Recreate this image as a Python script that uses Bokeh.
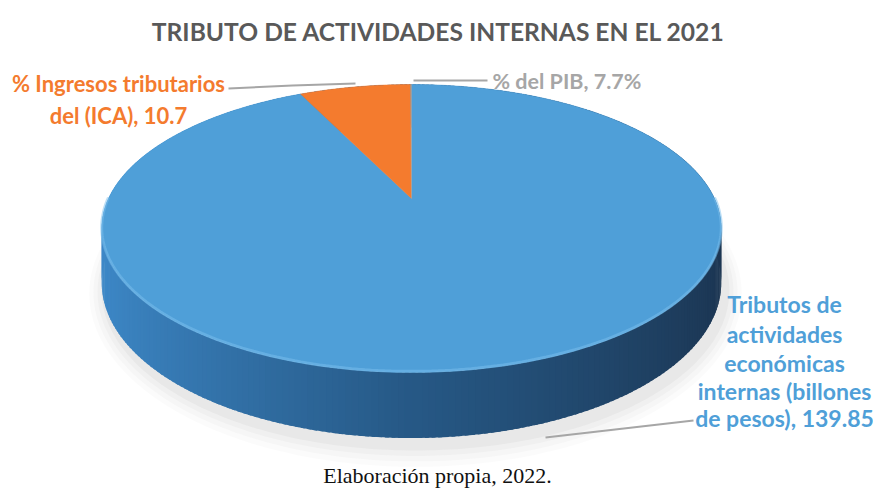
import math
from bokeh.plotting import figure
from bokeh.models import Range1d
from bokeh.core.properties import value
from bokeh.embed import file_html
from bokeh.resources import INLINE

# ---- data ----
categories = ["Tributos de actividades económicas internas (billones de pesos)",
              "% Ingresos tributarios del (ICA)",
              "% del PIB"]
values = [139.85, 10.7, 0.077]
value_labels = ["139.85", "10.7", "7.7%"]
colors = ["#4f9fd8", "#f47b2e", "#a5a5a5"]

title = "TRIBUTO DE ACTIVIDADES INTERNAS EN EL 2021"
caption = "Elaboración propia, 2022."

# ---- geometry of the 3D pie (layout) ----
CX, CY = 411.0, 198.0
RX, RY = 303.0, 137.7
K = 0.208
DEPTH = 52.0
W, H = 873, 490


def proj(theta, down=0.0):
    s = 1.0 / (1.0 + K * math.sin(theta))
    return (CX + RX * math.cos(theta) * s,
            CY - RY * math.sin(theta) * s + DEPTH * s * down)


def lerp(c1, c2, t):
    return tuple(int(round(a + (b - a) * t)) for a, b in zip(c1, c2))


def hexc(c):
    return "#%02x%02x%02x" % c


p = figure(width=W, height=H, x_range=Range1d(0, W), y_range=Range1d(H, 0),
           output_backend="svg", toolbar_location=None, min_border=0)
p.axis.visible = False
p.grid.visible = False
p.outline_line_color = None
p.background_fill_color = "white"
p.border_fill_color = "white"

N = 360
# soft shadow under the pie
for grow, a in [(16, 0.03), (12, 0.035), (8, 0.045), (4, 0.06)]:
    xs, ys = [], []
    for k in range(N):
        t = 2 * math.pi * k / N
        x, y = proj(t, 1.0)
        xs.append(CX + (x - CX) * (1 + grow / RX) + 4)
        ys.append(CY + DEPTH + (y - CY - DEPTH) * (1 + grow / RY) + 7)
    p.patch(xs, ys, fill_color="#707070", fill_alpha=a, line_color=None)

# side wall as thin quads, back first
left_c, mid_c, right_c = (62, 138, 202), (38, 88, 133), (27, 52, 80)
quads = []
for k in range(N):
    t0 = 2 * math.pi * k / N
    t1 = 2 * math.pi * (k + 1.6) / N
    tm = 2 * math.pi * (k + 0.5) / N
    c = math.cos(tm)
    col = lerp(left_c, mid_c, c + 1) if c < 0 else lerp(mid_c, right_c, c)
    a0, a1 = proj(t0), proj(t1)
    b0, b1 = proj(t0, 1.0), proj(t1, 1.0)
    quads.append((-math.sin(tm), [a0[0], a1[0], b1[0], b0[0]],
                  [a0[1], a1[1], b1[1], b0[1]], hexc(col)))
quads.sort(key=lambda q: q[0])
p.patches([q[1] for q in quads], [q[2] for q in quads],
          fill_color=[q[3] for q in quads], line_color=None)

# top face slices
total = sum(values)
start = math.pi / 2
for v, col in zip(values, colors):
    sweep = 2 * math.pi * v / total
    end = start - sweep
    n = max(2, int(abs(sweep) / (2 * math.pi) * 720))
    xs, ys = [CX], [CY]
    for k in range(n + 1):
        t = start - sweep * k / n
        x, y = proj(t)
        xs.append(x)
        ys.append(y)
    p.patch(xs, ys, fill_color=col, line_color=col, line_width=0.5)
    start = end

# bevel highlight along front rim
hx, hy = [], []
for k in range(181):
    t = math.pi + math.pi * k / 180
    x, y = proj(t)
    hx.append(x)
    hy.append(y - 1)
p.line(hx, hy, line_color="#7cc0ee", line_width=3, line_alpha=0.5)

# leader lines
p.line([228, 292, 355], [88, 85, 83], line_color="#a6a6a6", line_width=2)
p.line([413, 487], [80, 80], line_color="#a6a6a6", line_width=2)
p.line([545, 693], [437, 420], line_color="#a6a6a6", line_width=2)

FONT = value("Lato")
# title
p.text(x=[438], y=[31], text=[title], text_font=FONT, text_font_size="24.6px",
       text_font_style="bold", text_color="#595959", text_align="center",
       text_baseline="alphabetic")

# orange label
p.text(x=[118, 118], y=[83, 115],
       text=["% Ingresos tributarios", "del (ICA), " + value_labels[1]],
       text_font=FONT, text_font_size="22px", text_font_style="bold",
       text_color=colors[1], text_align="center", text_baseline="alphabetic")

# gray label
p.text(x=[492], y=[80], text=[categories[2] + ", " + value_labels[2]],
       text_font=FONT, text_font_size="21.5px", text_font_style="bold",
       text_color="#a6a6a6", text_align="left", text_baseline="alphabetic")

# blue label
blue_lines = ["Tributos de", "actividades", "económicas",
              "internas (billones", "de pesos), " + value_labels[0]]
p.text(x=[784] * 5, y=[303, 333, 362, 390, 417], text=blue_lines,
       text_font=FONT, text_font_size="23px", text_font_style="bold",
       text_color=colors[0], text_align="center", text_baseline="alphabetic")

# caption
p.text(x=[437], y=[475], text=[caption], text_font=value("Liberation Serif"),
       text_font_size="22px", text_color="#111111", text_align="center",
       text_baseline="alphabetic")

open("out.html", "w").write(file_html(p, INLINE))
